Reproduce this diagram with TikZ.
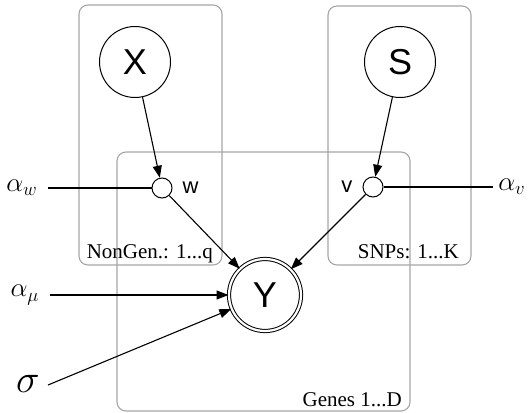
\documentclass[tikz,border=0pt]{standalone}
\usepackage{fontspec}
\setmainfont{Liberation Serif}
\newfontfamily\helv{Liberation Sans}
\usetikzlibrary{arrows.meta}
\begin{document}
\begin{tikzpicture}[x=1pt,y=-1pt,
  plate/.style={draw=black!35,line width=1.1pt,rounded corners=9pt},
  bignode/.style={draw,circle,line width=1pt,minimum size=71pt,inner sep=0pt,font=\helv\fontsize{36}{36}\selectfont},
  smallnode/.style={draw,circle,line width=1pt,minimum size=20pt,inner sep=0pt,fill=white},
  obsnode/.style={draw,circle,double,double distance=2.2pt,line width=1pt,minimum size=72pt,inner sep=0pt,font=\helv\fontsize{36}{36}\selectfont},
  lbl/.style={font=\helv\fontsize{22}{22}\selectfont},
  platelbl/.style={anchor=base east,inner sep=0pt,font=\fontsize{21}{21}\selectfont},
  hyper/.style={inner sep=0pt,font=\LARGE,scale=1.56},
  edge/.style={line width=1.1pt,-{Triangle[length=12pt,width=9pt]}},
  line/.style={line width=1.1pt}]
\useasboundingbox (0,0) rectangle (529,412);
% plates
\draw[plate] (79,5) rectangle (222,265);
\draw[plate] (328,6) rectangle (471,265);
\draw[plate] (117,152) rectangle (410,411);
\node[platelbl] (pl1) at (213,258) {NonGen.: 1...q};
\node[platelbl] (pl2) at (459,258) {SNPs: 1...K};
\node[platelbl] (pl3) at (402,406) {Genes 1...D};
% nodes
\node[bignode] (X) at (135,62) {X};
\node[bignode] (S) at (400,62) {S};
\node[smallnode] (w) at (162,188) {};
\node[smallnode] (v) at (373,187) {};
\node[lbl,anchor=west] (wl) at (179,188) {w};
\node[lbl,anchor=east] (vl) at (356,187) {v};
\node[obsnode] (Y) at (265,295) {Y};
% hyperparameters
\node[hyper] (aw) at (22,188) {$\alpha_w$};
\node[hyper] (av) at (512,187) {$\alpha_v$};
\node[hyper] (amu) at (25,295) {$\alpha_\mu$};
\node[inner sep=0pt,font=\LARGE,scale=2.3] (sig) at (28,384) {$\sigma$};
\coordinate (awe) at (48,188);
\coordinate (ave) at (493,187);
\coordinate (amue) at (50,295);
\coordinate (sige) at (48,385);
% edges
\draw[edge] (X) -- (w);
\draw[edge] (S) -- (v);
\draw[line] (awe) -- (w);
\draw[line] (ave) -- (v);
\draw[edge] (w) -- (Y);
\draw[edge] (v) -- (Y);
\draw[edge] (amue) -- (Y);
\draw[edge] (sige) -- (Y);
\end{tikzpicture}
\end{document}
